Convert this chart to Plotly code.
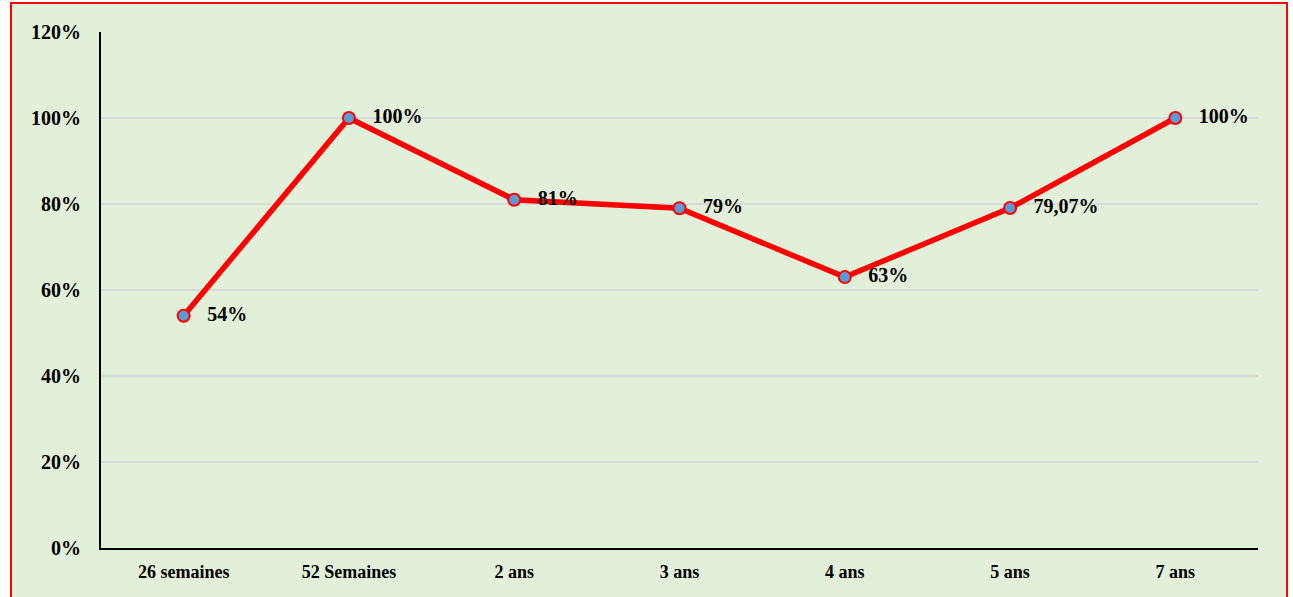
import plotly.graph_objects as go

# Data
periods = ["26 semaines", "52 Semaines", "2 ans", "3 ans", "4 ans", "5 ans", "7 ans"]
rates = [0.54, 1.00, 0.81, 0.79, 0.63, 0.7907, 1.00]
rate_labels = ["54%", "100%", "81%", "79%", "63%", "79,07%", "100%"]
y_ticks = [0, 0.2, 0.4, 0.6, 0.8, 1.0, 1.2]
y_tick_labels = ["0%", "20%", "40%", "60%", "80%", "100%", "120%"]

FONT = "Liberation Serif, Times New Roman, serif"
BG_GREEN = "#E2EFD9"

fig = go.Figure()
fig.add_trace(go.Scatter(
    x=periods, y=rates,
    mode="lines+markers+text",
    line=dict(color="#FF0000", width=5.5),
    marker=dict(size=12, color="#5B9BD5", line=dict(color="#FF0000", width=2)),
    text=["   " + t for t in rate_labels],
    textposition="middle right",
    textfont=dict(family=FONT, size=20, color="black", weight="bold"),
    cliponaxis=False,
    showlegend=False,
    hoverinfo="skip",
))

# Outer frame with the green fill and red border
fig.add_shape(
    type="rect", xref="paper", yref="paper",
    x0=-0.0778, x1=1.0251, y0=-0.1, y1=1.056,
    fillcolor=BG_GREEN, line=dict(color="#FF0000", width=2),
    layer="below",
)

fig.update_layout(
    width=1293, height=597,
    margin=dict(l=101, r=35, t=32, b=49),
    paper_bgcolor="white",
    plot_bgcolor="rgba(0,0,0,0)",
    font=dict(family=FONT, size=17, color="black"),
)
fig.update_xaxes(
    type="category", range=[-0.5, 6.5],
    showline=True, linecolor="black", linewidth=2,
    showgrid=False, ticks="", ticklabelstandoff=6,
    tickfont=dict(family=FONT, size=18, color="black", weight="bold"),
)
fig.update_yaxes(
    range=[0, 1.2], tickvals=y_ticks, ticktext=y_tick_labels,
    showline=True, linecolor="black", linewidth=2,
    showgrid=True, gridcolor="#D9D9D9", gridwidth=2,
    zeroline=False, ticks="", ticklabelstandoff=14,
    tickfont=dict(family=FONT, size=20, color="black", weight="bold"),
)

# drop the default page margin so the figure sits at the window origin
fig.write_html(
    "out.html",
    config={"displayModeBar": False},
    post_script="document.body.style.margin='0';",
)
